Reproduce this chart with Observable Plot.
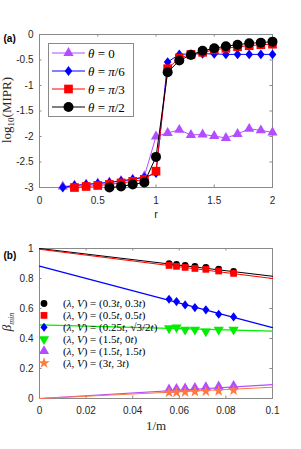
<!DOCTYPE html>
<html><head><meta charset="utf-8">
<script src="https://cdn.jsdelivr.net/npm/d3@7"></script>
<script src="https://cdn.jsdelivr.net/npm/@observablehq/plot@0.6"></script>
<style>
body{margin:0;background:#fff;}
#wrap{position:relative;width:301px;height:449px;overflow:hidden;}
#wrap>svg{display:block;}
#ov{position:absolute;left:0;top:0;}
</style></head><body><div id="wrap"></div>
<script>
// ---------- Panel (a) data ----------
const rPurple = [0.2,0.3,0.4,0.5,0.6,0.7,0.8,0.9,1.0,1.1,1.2,1.3,1.4,1.5,1.6,1.7,1.8,1.9,2.0];
const vPurple = [-2.98,-2.96,-2.94,-2.92,-2.9,-2.87,-2.84,-2.78,-2.0,-1.93,-1.87,-1.97,-1.96,-1.99,-2.03,-1.95,-1.85,-1.88,-1.92];
const rBlue = [0.2,0.3,0.4,0.5,0.6,0.7,0.8,0.9,1.0,1.1,1.2,1.3,1.4,1.5,1.6,1.7,1.8,1.9,2.0];
const vBlue = [-3.0,-2.96,-2.94,-2.92,-2.9,-2.87,-2.84,-2.8,-2.72,-0.54,-0.39,-0.38,-0.38,-0.38,-0.39,-0.39,-0.39,-0.39,-0.39];
const rRed = [0.3,0.4,0.5,0.6,0.7,0.8,0.9,1.0,1.1,1.2,1.3,1.4,1.5,1.6,1.7,1.8,1.9,2.0];
const vRed = [-3.0,-2.98,-2.96,-2.94,-2.91,-2.88,-2.84,-2.68,-0.67,-0.46,-0.39,-0.35,-0.3,-0.27,-0.24,-0.22,-0.2,-0.19];
const rBlack = [0.6,0.7,0.8,0.9,1.0,1.1,1.2,1.3,1.4,1.5,1.6,1.7,1.8,1.9,2.0];
const vBlack = [-3.0,-2.98,-2.94,-2.9,-2.4,-0.74,-0.51,-0.40,-0.32,-0.27,-0.23,-0.2,-0.17,-0.16,-0.14];
const legendA = ["θ = 0","θ = π/6","θ = π/3","θ = π/2"];
const xTicksA = [0,0.5,1,1.5,2];
const xTickLabelsA = ["0","0.5","1","1.5","2"];
const yTicksA = [0,-0.5,-1,-1.5,-2,-2.5,-3];
const yTickLabelsA = ["0","-0.5","-1","-1.5","-2","-2.5","-3"];

// ---------- Panel (b) data ----------
const invM = [0.0556,0.0588,0.0625,0.0667,0.0714,0.0769,0.0833];
const bBlack  = [0.899,0.894,0.887,0.881,0.874,0.863,0.848];
const bRed    = [0.887,0.881,0.874,0.867,0.861,0.850,0.834];
const bBlue   = [0.662,0.646,0.624,0.606,0.591,0.562,0.544];
const bGreen  = [0.468,0.474,0.459,0.459,0.447,0.459,0.459];
const bPurple = [0.060,0.064,0.068,0.071,0.075,0.080,0.084];
const bOrange = [0.040,0.041,0.043,0.045,0.048,0.051,0.055];
const fitX = [0,0.1];
const fitBlack  = [1.0,0.815];
const fitRed    = [0.995,0.80];
const fitBlue   = [0.883,0.473];
const fitGreen  = [0.491,0.449];
const fitPurple = [0.0,0.093];
const fitOrange = [0.0,0.075];
const legendB = [
  ["0.3","0.3"],["0.5","0.5"],["0.25","√3/2"],["1.5","0"],["1.5","1.5"],["3","3"]
];
const xTicksB = [0,0.02,0.04,0.06,0.08,0.1];
const xTickLabelsB = ["0","0.02","0.04","0.06","0.08","0.1"];
const yTicksB = [0,0.2,0.4,0.6,0.8,1];
const yTickLabelsB = ["0","0.2","0.4","0.6","0.8","1"];

// ---------- styles ----------
const C = {purple:"#b44dff", blue:"#0000ff", red:"#ff0000", black:"#000000", green:"#00ee00", orange:"#ff7a3d"};
const frameColor = "#8a8a8a";
const sans = "'Liberation Sans', Arial, Helvetica, sans-serif";
const serif = "'Liberation Serif', 'DejaVu Serif', serif";
const tallDiamond = {draw(ctx, size){const a=Math.sqrt(size)*0.6, b=a*0.78; ctx.moveTo(0,-a); ctx.lineTo(b,0); ctx.lineTo(0,a); ctx.lineTo(-b,0); ctx.closePath();}};

const zipS = (xs, ys) => xs.map((x,i)=>({x, y: ys[i]}));

function seriesMarks(xs, ys, color, symbol, r, rotate=0, sw=1){
  const d = zipS(xs, ys);
  return [
    Plot.line(d, {x:"x", y:"y", stroke: color, strokeWidth: sw}),
    Plot.dot(d, {x:"x", y:"y", symbol, r, fill: color, stroke: "none", rotate})
  ];
}
function boxTicks(xt, yt, fh, fw){
  const len = 2.5;
  return [
    Plot.tickX(xt, {x: d=>d, insetTop: fh-len, stroke: frameColor}),
    Plot.tickX(xt, {x: d=>d, insetBottom: fh-len, stroke: frameColor}),
    Plot.tickY(yt, {y: d=>d, insetRight: fw-len, stroke: frameColor}),
    Plot.tickY(yt, {y: d=>d, insetLeft: fw-len, stroke: frameColor})
  ];
}

const W = 301, mL = 39, mR = 29;
const fw = W - mL - mR;

// ---------- Plot (a) ----------
const hA = 225, mTA = 34, mBA = 38;
const plotA = Plot.plot({
  width: W, height: hA, marginLeft: mL, marginRight: mR, marginTop: mTA, marginBottom: mBA,
  x: {domain: [0,2]}, y: {domain: [-3,0]},
  style: {fontFamily: sans, fontSize: "10px", color: "#262626", background: "#fff", overflow: "visible"},
  marks: [
    Plot.frame({stroke: frameColor, fill: "#fff"}),
    ...boxTicks(xTicksA, yTicksA, hA-mTA-mBA, fw),
    Plot.axisX(xTicksA, {anchor:"bottom", tickSize: 0, tickPadding: 9, tickFormat: d => xTickLabelsA[xTicksA.indexOf(d)], label: null}),
    Plot.axisY(yTicksA, {anchor:"left", tickSize: 0, tickPadding: 6, tickFormat: d => yTickLabelsA[yTicksA.indexOf(d)], label: null}),
    ...seriesMarks(rPurple, vPurple, C.purple, "triangle", 3.8),
    ...seriesMarks(rBlue, vBlue, C.blue, tallDiamond, 4.6),
    ...seriesMarks(rRed, vRed, C.red, "square", 4.9),
    ...seriesMarks(rBlack, vBlack, C.black, "circle", 5),
    Plot.text(["r"], {frameAnchor: "bottom", dy: 27, lineAnchor: "middle", text: d=>d, fontSize: 11, fill: "#262626"}),
    Plot.text(["(a)"], {frameAnchor: "top-left", dx: -36, dy: 4.5, textAnchor: "start", lineAnchor: "middle", text: d=>d, fontWeight: "bold", fontSize: 10, fill: "#000"})
  ]
});

// ---------- Plot (b) ----------
const hB = 224, mTB = 23, mBB = 51;
const plotB = Plot.plot({
  width: W, height: hB, marginLeft: mL, marginRight: mR, marginTop: mTB, marginBottom: mBB,
  x: {domain: [0,0.1]}, y: {domain: [0,1]},
  style: {fontFamily: sans, fontSize: "10px", color: "#262626", background: "#fff", overflow: "visible"},
  marks: [
    Plot.frame({stroke: frameColor, fill: "#fff"}),
    ...boxTicks(xTicksB, yTicksB, hB-mTB-mBB, fw),
    Plot.axisX(xTicksB, {anchor:"bottom", tickSize: 0, tickPadding: 8, tickFormat: d => xTickLabelsB[xTicksB.indexOf(d)], label: null}),
    Plot.axisY(yTicksB, {anchor:"left", tickSize: 0, tickPadding: 6, tickFormat: d => yTickLabelsB[yTicksB.indexOf(d)], label: null}),
    Plot.line(zipS(fitX, fitBlack), {x:"x", y:"y", stroke: C.black, strokeWidth: 1.2}),
    Plot.line(zipS(fitX, fitRed), {x:"x", y:"y", stroke: C.red, strokeWidth: 1.2}),
    Plot.line(zipS(fitX, fitBlue), {x:"x", y:"y", stroke: C.blue, strokeWidth: 1.2}),
    Plot.line(zipS(fitX, fitGreen), {x:"x", y:"y", stroke: C.green, strokeWidth: 1.2}),
    Plot.line(zipS(fitX, fitPurple), {x:"x", y:"y", stroke: C.purple, strokeWidth: 1.2}),
    Plot.line(zipS(fitX, fitOrange), {x:"x", y:"y", stroke: C.orange, strokeWidth: 1.2}),
    Plot.dot(zipS(invM, bBlack), {x:"x", y:"y", symbol:"circle", r: 3.4, fill: C.black}),
    Plot.dot(zipS(invM, bRed), {x:"x", y:"y", symbol:"square", r: 3.8, fill: C.red}),
    Plot.dot(zipS(invM, bBlue), {x:"x", y:"y", symbol: tallDiamond, r: 4.3, fill: C.blue}),
    Plot.dot(zipS(invM, bGreen), {x:"x", y:"y", symbol:"triangle", r: 3.8, fill: C.green, rotate: 180}),
    Plot.dot(zipS(invM, bPurple), {x:"x", y:"y", symbol:"triangle", r: 3.8, fill: C.purple}),
    Plot.dot(zipS(invM, bOrange), {x:"x", y:"y", symbol:"star", r: 3.6, fill: C.orange}),
    Plot.text(["1/m"], {frameAnchor: "bottom", dy: 27, lineAnchor: "middle", text: d=>d, fontSize: 13, fontFamily: serif, fill: "#262626"}),
    Plot.text(["(b)"], {frameAnchor: "top-left", dx: -36, dy: 7, textAnchor: "start", lineAnchor: "middle", text: d=>d, fontWeight: "bold", fontSize: 10, fill: "#000"})
  ]
});

const wrap = document.getElementById("wrap");
wrap.appendChild(plotA);
wrap.appendChild(plotB);

// ---------- overlay: legends and y labels ----------
const ov = d3.select(wrap).append("svg").attr("id","ov").attr("width", W).attr("height", 449)
  .style("font-family", serif);

// y label (a)
const tA = ov.append("text").attr("transform","translate(11,110) rotate(-90)")
  .attr("text-anchor","middle").attr("font-size",13).attr("fill","#262626");
tA.append("tspan").text("log");
tA.append("tspan").attr("font-size",9).attr("dy",3).text("10");
tA.append("tspan").attr("dy",-3).text("(MIPR)");

// y label (b): β with subscript min and an overline across the whole symbol
const gB = ov.append("g").attr("transform","translate(11,322) rotate(-90)");
const tB = gB.append("text").attr("text-anchor","middle").attr("font-size",13).attr("fill","#262626");
tB.append("tspan").attr("font-style","italic").text("β");
tB.append("tspan").attr("font-size",8).attr("font-style","italic").attr("dy",3).text("min");
const bb = tB.node().getBBox();
gB.append("line").attr("x1", bb.x).attr("x2", bb.x + bb.width)
  .attr("y1", bb.y + 0.5).attr("y2", bb.y + 0.5).attr("stroke","#262626").attr("stroke-width",0.8);

// legend (a)
const la = ov.append("g");
la.append("rect").attr("x",48.5).attr("y",43.5).attr("width",85).attr("height",73)
  .attr("fill","#fff").attr("stroke",frameColor);
const legA = [
  {c: C.purple, s: d3.symbolTriangle, size: Math.PI*3.8*3.8},
  {c: C.blue, s: tallDiamond, size: Math.PI*4.6*4.6},
  {c: C.red, s: d3.symbolSquare, size: Math.PI*4.9*4.9},
  {c: C.black, s: d3.symbolCircle, size: Math.PI*5*5}
];
legA.forEach((e,i)=>{
  const y = 53 + i*18;
  la.append("line").attr("x1",52).attr("x2",85).attr("y1",y).attr("y2",y).attr("stroke",e.c).attr("stroke-width",1);
  la.append("path").attr("transform",`translate(68.5,${y})`).attr("d", d3.symbol(e.s, e.size)()).attr("fill", e.c);
  const t = la.append("text").attr("x",88).attr("y",y).attr("dy","0.35em").attr("font-size",13).attr("fill","#000");
  const parts = legendA[i].split(" = ");
  t.append("tspan").attr("font-style","italic").text(parts[0]);
  t.append("tspan").text(" = ");
  const rhs = parts[1];
  if (rhs.startsWith("π")) { t.append("tspan").attr("font-style","italic").text("π"); t.append("tspan").text(rhs.slice(1)); }
  else t.append("tspan").text(rhs);
});

// legend (b)
const lb = ov.append("g");
const legB = [
  {c: C.black, s: d3.symbolCircle, size: Math.PI*3.4*3.4, rot: 0},
  {c: C.red, s: d3.symbolSquare, size: Math.PI*3.8*3.8, rot: 0},
  {c: C.blue, s: tallDiamond, size: Math.PI*4.3*4.3, rot: 0},
  {c: C.green, s: d3.symbolTriangle, size: Math.PI*3.8*3.8, rot: 180},
  {c: C.purple, s: d3.symbolTriangle, size: Math.PI*3.8*3.8, rot: 0},
  {c: C.orange, s: d3.symbolStar, size: Math.PI*3.6*3.6, rot: 0}
];
legB.forEach((e,i)=>{
  const y = 303.5 + i*11.9;
  lb.append("path").attr("transform",`translate(44,${y}) rotate(${e.rot})`).attr("d", d3.symbol(e.s, e.size)()).attr("fill", e.c);
  const t = lb.append("text").attr("x",63).attr("y",y).attr("dy","0.35em").attr("font-size",11).attr("fill","#000");
  const [a,b] = legendB[i];
  t.append("tspan").text("(");
  t.append("tspan").attr("font-style","italic").text("λ, V");
  t.append("tspan").text(") = (" + a);
  t.append("tspan").attr("font-style","italic").text("t");
  t.append("tspan").text(", " + b);
  t.append("tspan").attr("font-style","italic").text("t");
  t.append("tspan").text(")");
});
</script>
</body></html>
